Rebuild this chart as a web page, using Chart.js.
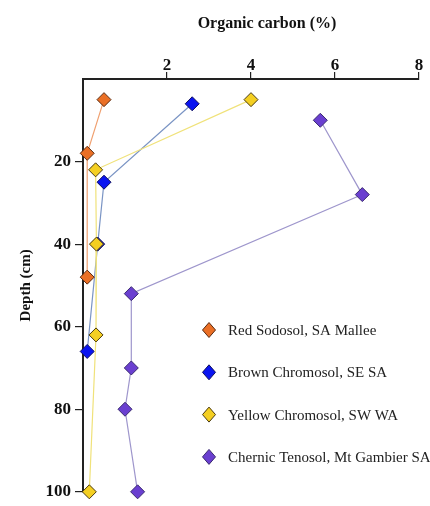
<!DOCTYPE html>
<html>
<head>
<meta charset="utf-8">
<script src="https://cdn.jsdelivr.net/npm/chart.js@4.4.1/dist/chart.umd.min.js"></script>
<style>
  html, body { margin: 0; padding: 0; background: #fff; }
  #grafico { display: block; }
</style>
</head>
<body>
<canvas id="grafico" width="430" height="506"></canvas>
<script>
// valores (profundidade em cm, carbono orgânico em %)
const rotulos = ["Red Sodosol, SA Mallee", "Brown Chromosol, SE SA", "Yellow Chromosol, SW WA", "Chernic Tenosol, Mt Gambier SA"];

const redDepth = [5, 18, 48];
const redOC = [0.5, 0.1, 0.1];

const brownDepth = [6, 25, 40, 66];
const brownOC = [2.6, 0.5, 0.35, 0.1];

const yellowDepth = [5, 22, 40, 62, 100];
const yellowOC = [4.0, 0.3, 0.32, 0.31, 0.15];

const chernicDepth = [10, 28, 52, 70, 80, 100];
const chernicOC = [5.65, 6.65, 1.15, 1.15, 1.0, 1.3];

const xTicks = [0, 2, 4, 6, 8];
const yTicks = [0, 20, 40, 60, 80, 100];

const pares = (xs, ys) => xs.map((v, i) => ({ x: v, y: ys[i] }));

const serie = (label, xs, ys, cor, corLinha, borda) => ({
  label,
  data: pares(xs, ys),
  showLine: true,
  borderColor: corLinha,
  borderWidth: 1.2,
  pointStyle: "rectRot",
  pointRadius: 7,
  pointHoverRadius: 7,
  pointBackgroundColor: cor,
  pointBorderColor: borda,
  pointBorderWidth: 1,
  clip: false,
});

const datasets = [
  serie(rotulos[3], chernicOC, chernicDepth, "#6a3fd0", "#9e96cc", "#3a2a70"),
  serie(rotulos[2], yellowOC, yellowDepth, "#f4cf22", "#f0e27a", "#4a3a10"),
  serie(rotulos[0], redOC, redDepth, "#ea6f25", "#f0a070", "#5a2a10"),
  serie(rotulos[1], brownOC, brownDepth, "#0a14f0", "#7a94c4", "#101060"),
];

// legenda desenhada dentro da área do gráfico
const legendaInterna = {
  id: "legendaInterna",
  afterDraw(chart) {
    const { ctx, chartArea } = chart;
    const cores = [
      ["#ea6f25", "#5a2a10"],
      ["#0a14f0", "#101060"],
      ["#f4cf22", "#4a3a10"],
      ["#6a3fd0", "#3a2a70"],
    ];
    const x0 = chartArea.left + 126;
    const y0 = chartArea.top + 251;
    ctx.save();
    ctx.font = "15px 'Liberation Serif'";
    ctx.textBaseline = "middle";
    rotulos.forEach((txt, i) => {
      const y = y0 + i * 42.3;
      ctx.beginPath();
      ctx.moveTo(x0, y - 7.5);
      ctx.lineTo(x0 + 6.5, y);
      ctx.lineTo(x0, y + 7.5);
      ctx.lineTo(x0 - 6.5, y);
      ctx.closePath();
      ctx.fillStyle = cores[i][0];
      ctx.fill();
      ctx.lineWidth = 1;
      ctx.strokeStyle = cores[i][1];
      ctx.stroke();
      ctx.fillStyle = "#222";
      ctx.fillText(txt, x0 + 19, y + 1);
    });
    ctx.restore();
  },
};

const fundoBranco = {
  id: "fundoBranco",
  beforeDraw(chart) {
    const { ctx, width, height } = chart;
    ctx.save();
    ctx.fillStyle = "#fff";
    ctx.fillRect(0, 0, width, height);
    ctx.restore();
  },
};

const fonteEixo = { family: "'Liberation Serif'", size: 17, weight: "bold" };
const corTick = (c) => (c.tick && c.tick.value === 0 ? "rgba(0,0,0,0)" : "#222");

new Chart(document.getElementById("grafico"), {
  type: "scatter",
  data: { datasets },
  plugins: [fundoBranco, legendaInterna],
  options: {
    responsive: false,
    animation: false,
    layout: { padding: { left: 0, top: 0, right: 11, bottom: 6 } },
    plugins: { legend: { display: false }, tooltip: { enabled: false } },
    scales: {
      x: {
        type: "linear",
        position: "top",
        min: 0,
        max: 8,
        afterBuildTicks: (scale) => { scale.ticks = xTicks.map((v) => ({ value: v })); },
        afterFit: (scale) => { scale.height = 79; },
        ticks: {
          color: "#111",
          font: fonteEixo,
          padding: -4,
          callback: (v) => (v === 0 ? "" : v),
        },
        grid: { display: true, drawOnChartArea: false, drawTicks: true, tickLength: 7, color: corTick, lineWidth: 1.2 },
        border: { display: true, color: "#222", width: 2 },
        title: {
          display: true,
          text: "\u00a0\u00a0\u00a0\u00a0\u00a0\u00a0\u00a0\u00a0Organic carbon (%)",
          color: "#111",
          font: { family: "'Liberation Serif'", size: 16, weight: "bold" },
          padding: { top: 14, bottom: 0 },
        },
      },
      y: {
        type: "linear",
        reverse: true,
        min: 0,
        max: 100,
        afterBuildTicks: (scale) => { scale.ticks = yTicks.map((v) => ({ value: v })); },
        afterFit: (scale) => { scale.width = 83; },
        ticks: {
          color: "#111",
          font: fonteEixo,
          padding: 4,
          callback: (v) => (v === 0 ? "" : v),
        },
        grid: { display: true, drawOnChartArea: false, drawTicks: true, tickLength: 8, color: corTick, lineWidth: 1.2 },
        border: { display: true, color: "#222", width: 2 },
        title: {
          display: true,
          text: "Depth (cm)",
          color: "#111",
          font: { family: "'Liberation Serif'", size: 15, weight: "bold" },
          padding: { top: 17, bottom: 0 },
        },
      },
    },
  },
});
</script>
</body>
</html>
